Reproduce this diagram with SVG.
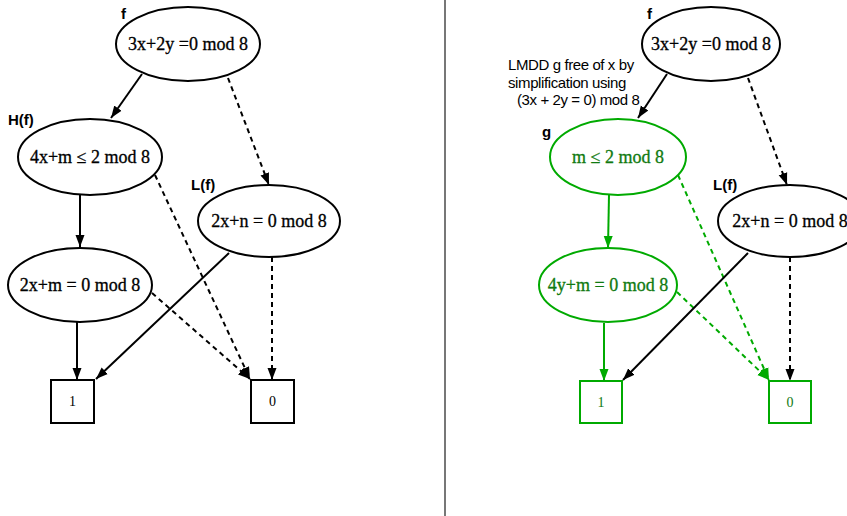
<svg xmlns="http://www.w3.org/2000/svg" width="847" height="516" viewBox="0 0 847 516">
<style>
.n{fill:none;stroke:#000;stroke-width:2}
.g{fill:none;stroke:#00aa00;stroke-width:2}
.t{font-family:"Liberation Serif","DejaVu Serif",serif;font-size:18px;text-anchor:middle;fill:#000;stroke:#000;stroke-width:0.3}
.tg{font-family:"Liberation Serif","DejaVu Serif",serif;font-size:18px;text-anchor:middle;fill:#107a10;stroke:#107a10;stroke-width:0.3}
.b{font-family:"Liberation Serif","DejaVu Serif",serif;font-size:14px;text-anchor:middle;fill:#000}
.bg{font-family:"Liberation Serif","DejaVu Serif",serif;font-size:14px;text-anchor:middle;fill:#107a10}
.lb{font-family:"Liberation Sans",Arial,sans-serif;font-size:15px;font-weight:bold;fill:#000}
.an{font-family:"Liberation Sans",Arial,sans-serif;font-size:15px;letter-spacing:-0.4px;fill:#000}
.e{fill:none;stroke:#000;stroke-width:2}
.eg{fill:none;stroke:#00aa00;stroke-width:2}
.d{stroke-dasharray:5,4}
</style>
<defs>
<marker id="ah" markerUnits="userSpaceOnUse" markerWidth="13" markerHeight="10" refX="12" refY="5" orient="auto"><path d="M0,0.5 L12,5 L0,9.5 z" fill="#000"/></marker>
<marker id="ahg" markerUnits="userSpaceOnUse" markerWidth="13" markerHeight="10" refX="12" refY="5" orient="auto"><path d="M0,0.5 L12,5 L0,9.5 z" fill="#00aa00"/></marker>
</defs>
<rect width="847" height="516" fill="#fff"/>
<line x1="445" y1="0" x2="445" y2="516" stroke="#777" stroke-width="2"/>
<g id="connectors">
<line class="e" x1="142" y1="74" x2="111" y2="118" marker-end="url(#ah)"/>
<line class="e d" x1="228" y1="78" x2="269" y2="185" marker-end="url(#ah)"/>
<line class="e" x1="80" y1="195" x2="80" y2="247" marker-end="url(#ah)"/>
<line class="e d" x1="155" y1="175" x2="250" y2="379" marker-end="url(#ah)"/>
<line class="e d" x1="152" y1="293" x2="250" y2="379" marker-end="url(#ah)"/>
<line class="e" x1="77" y1="322" x2="77" y2="380" marker-end="url(#ah)"/>
<line class="e" x1="229" y1="253" x2="96" y2="379" marker-end="url(#ah)"/>
<line class="e d" x1="272" y1="257" x2="272" y2="380" marker-end="url(#ah)"/>
<line class="e" x1="667" y1="74" x2="638" y2="118" marker-end="url(#ah)"/>
<line class="e d" x1="748" y1="78" x2="787" y2="185" marker-end="url(#ah)"/>
<line class="eg" x1="609" y1="195" x2="608" y2="248" marker-end="url(#ahg)"/>
<line class="eg d" x1="678" y1="175" x2="769" y2="380" marker-end="url(#ahg)"/>
<line class="eg d" x1="677" y1="292" x2="769" y2="380" marker-end="url(#ahg)"/>
<line class="eg" x1="604" y1="323" x2="604" y2="381" marker-end="url(#ahg)"/>
<line class="e" x1="748" y1="253" x2="623" y2="380" marker-end="url(#ah)"/>
<line class="e d" x1="790" y1="257" x2="790" y2="381" marker-end="url(#ah)"/>
</g>
<g id="f1"><ellipse class="n" cx="188" cy="44" rx="72" ry="37"/><text class="t" x="188" y="50">3x+2y =0 mod 8</text><text class="lb" x="121" y="19">f</text></g>
<g id="hf"><ellipse class="n" cx="90" cy="157" rx="72" ry="38"/><text class="t" x="90" y="163">4x+m ≤ 2 mod 8</text><text class="lb" x="8" y="125">H(f)</text></g>
<g id="lf1"><ellipse class="n" cx="269" cy="221" rx="71" ry="36"/><text class="t" x="269" y="227">2x+n = 0 mod 8</text><text class="lb" x="191" y="190">L(f)</text></g>
<g id="a1"><ellipse class="n" cx="80" cy="285" rx="72" ry="37"/><text class="t" x="80" y="291">2x+m = 0 mod 8</text></g>
<g id="one1"><rect class="n" x="51" y="380" width="43" height="43"/><text class="b" x="72.5" y="406">1</text></g>
<g id="zero1"><rect class="n" x="251" y="380" width="43" height="43"/><text class="b" x="272.5" y="406">0</text></g>
<g id="f2"><ellipse class="n" cx="711" cy="44" rx="69" ry="37"/><text class="t" x="711" y="50">3x+2y =0 mod 8</text><text class="lb" x="647" y="19">f</text></g>
<g id="note"><text class="an" x="508" y="70">LMDD g free of x by</text><text class="an" x="508" y="88">simplification using</text><text class="an" x="517" y="105">(3x + 2y = 0) mod 8</text></g>
<g id="g"><ellipse class="g" cx="618" cy="157" rx="68" ry="38"/><text class="tg" x="618" y="163">m ≤ 2 mod 8</text><text class="lb" x="542" y="137">g</text></g>
<g id="lf2"><ellipse class="n" cx="790" cy="221" rx="72" ry="36"/><text class="t" x="790" y="227">2x+n = 0 mod 8</text><text class="lb" x="713" y="190">L(f)</text></g>
<g id="b2"><ellipse class="g" cx="608" cy="285" rx="69" ry="37"/><text class="tg" x="608" y="291">4y+m = 0 mod 8</text></g>
<g id="one2"><rect class="g" x="580" y="381" width="42" height="42"/><text class="bg" x="601" y="407">1</text></g>
<g id="zero2"><rect class="g" x="769" y="381" width="42" height="42"/><text class="bg" x="790" y="407">0</text></g>
</svg>
